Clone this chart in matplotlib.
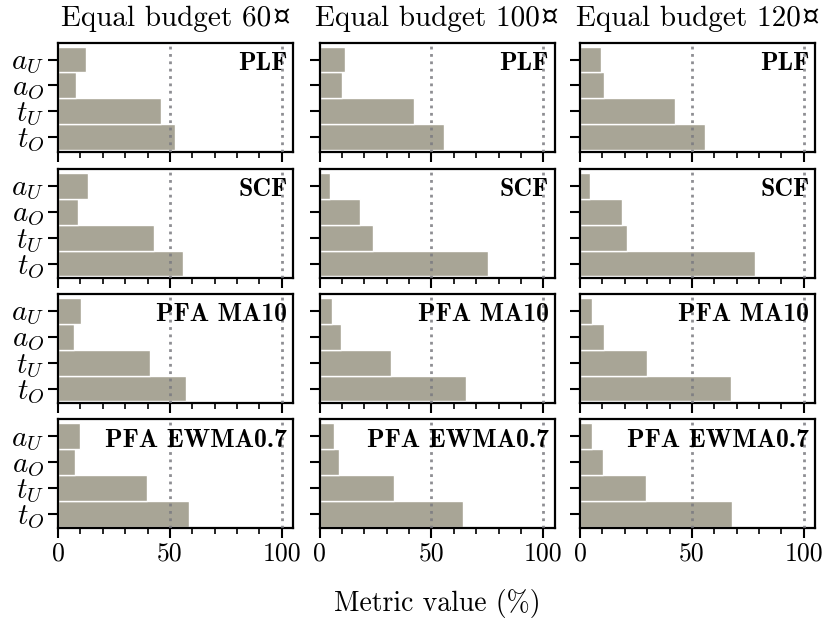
import matplotlib
matplotlib.use("Agg")
import matplotlib.pyplot as plt
import numpy as np

plt.rcParams['font.family'] = ['cmr10', 'DejaVu Serif']
plt.rcParams['mathtext.fontset'] = 'cm'
plt.rcParams['axes.unicode_minus'] = False
plt.rcParams['axes.formatter.use_mathtext'] = True

# data: rows = methods, cols = budgets
budgets = ["60", "100", "120"]
methods = ["PLF", "SCF", "PFA MA10", "PFA EWMA0.7"]
metric_labels = [r"$t_O$", r"$t_U$", r"$a_O$", r"$a_U$"]  # bottom -> top

# values in order t_O, t_U, a_O, a_U
plf = [[52.3, 46.0, 7.9, 12.5], [55.5, 42.3, 10.2, 11.3], [55.8, 42.4, 10.5, 9.4]]
scf = [[55.8, 43.1, 9.1, 13.3], [75.5, 23.8, 18.0, 4.9], [78.1, 20.8, 18.6, 4.4]]
ma10 = [[57.0, 41.3, 7.2, 10.3], [65.3, 32.1, 9.6, 5.8], [67.5, 30.1, 10.5, 5.4]]
ewma = [[58.4, 39.7, 7.4, 10.0], [64.3, 33.2, 8.6, 6.4], [67.9, 29.4, 10.3, 5.4]]
values = [plf, scf, ma10, ewma]

W, H = 830, 623
fig = plt.figure(figsize=(W / 100, H / 100), dpi=100)

col_left = [58, 319.5, 580]
row_top = [42.7, 169, 294, 419.3]
ax_w, ax_h = 235, 109

bar_color = '#a8a596'
y = np.arange(4)

for r, method in enumerate(methods):
    for c, budget in enumerate(budgets):
        ax = fig.add_axes([col_left[c] / W, 1 - (row_top[r] + ax_h) / H, ax_w / W, ax_h / H])
        ax.barh(y, values[r][c], height=1.0, color=bar_color,
                edgecolor='white', linewidth=1.0, zorder=2)
        for xv in [50, 100]:
            ax.axvline(xv, color='#7a7a80', linestyle=':', linewidth=2, alpha=0.85, zorder=3)
        ax.set_xlim(0, 105)
        ax.set_ylim(-0.56, 3.65)
        ax.set_xticks([0, 50, 100])
        ax.set_xticks(np.arange(0, 101, 10), minor=True)
        ax.set_yticks(y)
        if c == 0:
            ax.set_yticklabels(metric_labels, fontsize=21)
        else:
            ax.set_yticklabels([])
        if r == len(methods) - 1:
            ax.set_xticklabels(['0', '50', '100'], fontsize=18.5)
        else:
            ax.set_xticklabels([])
        ax.tick_params(axis='both', which='major', direction='out', length=7, width=1.5, pad=3)
        ax.tick_params(axis='x', which='minor', direction='out', length=4, width=1.2)
        for s in ax.spines.values():
            s.set_linewidth(1.6)
        ax.text(0.975, 0.81, method, transform=ax.transAxes, ha='right', va='center',
                fontsize=18.5, family=['cmb10', 'DejaVu Serif'], zorder=4)
        if r == 0:
            # title text, then the currency sign drawn right after it in a font that has it
            t = fig.text(0, 0, f"Equal budget {budget}", fontsize=21)
            fig.canvas.draw()
            tw = t.get_window_extent().width
            t.remove()
            sw = 19
            x0 = (col_left[c] + ax_w / 2) / W - (tw + sw) / 2 / W
            yb = 1 - 26 / H
            fig.text(x0, yb, f"Equal budget {budget}", fontsize=21, va='baseline')
            fig.text(x0 + (tw + 1) / W, yb + 1 / H, "\u00a4", fontsize=20, va='baseline',
                     family='DejaVu Serif', fontweight='light')

fig.text((col_left[1] + ax_w / 2) / W, 1 - 603 / H, "Metric value (%)",
         ha='center', va='center', fontsize=20)

fig.savefig("out.png", dpi=100)
